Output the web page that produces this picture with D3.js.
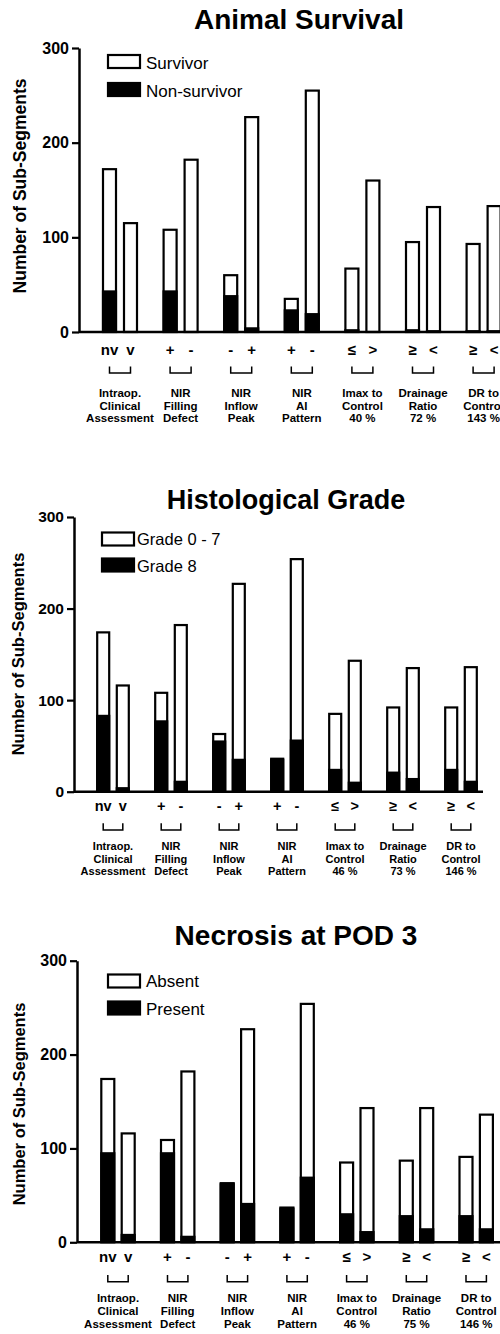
<!DOCTYPE html>
<html>
<head>
<meta charset="utf-8">
<script src="https://cdn.jsdelivr.net/npm/d3@7"></script>
<style>
  html, body { margin: 0; padding: 0; background: #fff; }
  svg { display: block; font-family: "Liberation Sans", Arial, Helvetica, sans-serif; }
</style>
</head>
<body>
<svg id="chart" width="500" height="1334"></svg>
<script>
// ---------------- DATA ----------------
const subLabels = [["nv", "v"], ["+", "-"], ["-", "+"], ["+", "-"], ["\u2264", ">"], ["\u2265", "<"], ["\u2265", "<"]];
const yTicks = [0, 100, 200, 300];

const survivalGroups = [["Intraop.", "Clinical", "Assessment"], ["NIR", "Filling", "Defect"], ["NIR", "Inflow", "Peak"], ["NIR", "AI", "Pattern"], ["Imax to", "Control", "40 %"], ["Drainage", "Ratio", "72 %"], ["DR to", "Control", "143 %"]];
const survivor    = [128, 115, 64, 182, 21, 222, 11, 235, 64, 159, 92, 130, 91, 131];
const nonSurvivor = [44, 0, 44, 0, 39, 5, 24, 20, 3, 1, 3, 2, 2, 2];

const histoGroups = [["Intraop.", "Clinical", "Assessment"], ["NIR", "Filling", "Defect"], ["NIR", "Inflow", "Peak"], ["NIR", "AI", "Pattern"], ["Imax to", "Control", "46 %"], ["Drainage", "Ratio", "73 %"], ["DR to", "Control", "146 %"]];
const grade0to7 = [90, 111, 30, 170, 7, 191, 0, 197, 60, 132, 70, 120, 67, 124];
const grade8    = [84, 5, 78, 12, 56, 36, 36, 57, 25, 11, 22, 15, 25, 12];

const necrosisGroups = [["Intraop.", "Clinical", "Assessment"], ["NIR", "Filling", "Defect"], ["NIR", "Inflow", "Peak"], ["NIR", "AI", "Pattern"], ["Imax to", "Control", "46 %"], ["Drainage", "Ratio", "75 %"], ["DR to", "Control", "146 %"]];
const absent  = [78, 107, 13, 175, 0, 185, 0, 184, 54, 131, 58, 128, 62, 121];
const present = [96, 9, 96, 7, 63, 42, 37, 70, 31, 12, 29, 15, 29, 15];

// ---------------- LAYOUT ----------------
const panels = [
  { title: "Animal Survival", groups: survivalGroups, white: survivor, black: nonSurvivor,
    legend: ["Survivor", "Non-survivor"],
    axisX: 79, y0: 332, y300: 48, c0: 120, step: 60.6, off: 10.5, bw: 13, xEnd: 500,
    titleX: 299, titleY: 29, titleSize: 28,
    symY: 355, brTop: 366.5, brBot: 373, lblY: [397, 409.5, 422],
    yLabX: 26, yLabY: 186, yLabSize: 17.5, tickSize: 16,
    legX: 108, legY: [55, 83], legTextX: 146, legTextY: [68.5, 96.5], legSize: 17, grpSize: 11.5, symSize: 15 },
  { title: "Histological Grade", groups: histoGroups, white: grade0to7, black: grade8,
    legend: ["Grade 0 - 7", "Grade 8"],
    axisX: 74, y0: 791.7, y300: 517, c0: 113, step: 58, off: 9.8, bw: 12, xEnd: 483,
    titleX: 286, titleY: 509, titleSize: 27,
    symY: 810.5, brTop: 823.3, brBot: 830, lblY: [850, 862.5, 875],
    yLabX: 24, yLabY: 654, yLabSize: 16.5, tickSize: 15.5,
    legX: 102, legY: [532.5, 558.5], legTextX: 137, legTextY: [545, 571.5], legSize: 16.5, grpSize: 11, symSize: 14.5 },
  { title: "Necrosis at POD 3", groups: necrosisGroups, white: absent, black: present,
    legend: ["Absent", "Present"],
    axisX: 77, y0: 1242.3, y300: 960.7, c0: 118, step: 59.7, off: 10.2, bw: 13, xEnd: 500,
    titleX: 296, titleY: 945, titleSize: 28,
    symY: 1261.5, brTop: 1275, brBot: 1281.7, lblY: [1301.5, 1315, 1328.3],
    yLabX: 25, yLabY: 1104, yLabSize: 16.5, tickSize: 16,
    legX: 108, legY: [974.5, 1001.5], legTextX: 146, legTextY: [987, 1015], legSize: 17, grpSize: 11.5, symSize: 15 }
];

const svg = d3.select("#chart");

panels.forEach(p => {
  const g = svg.append("g");
  const nG = p.groups.length;
  const y = d3.scaleLinear().domain([0, 300]).range([p.y0, p.y300]);
  const x = d3.scaleBand().domain(d3.range(nG))
    .range([p.c0 - p.step / 2, p.c0 - p.step / 2 + nG * p.step]).padding(0);
  const sub = d3.scalePoint().domain([0, 1]).range([-p.off, p.off]);
  const gc = i => x(i) + x.bandwidth() / 2;

  // title
  g.append("text").attr("x", p.titleX).attr("y", p.titleY)
    .attr("text-anchor", "middle").attr("font-weight", "bold")
    .attr("font-size", p.titleSize).text(p.title);

  // y label
  g.append("text").attr("transform", `translate(${p.yLabX},${p.yLabY}) rotate(-90)`)
    .attr("text-anchor", "middle").attr("font-weight", "bold")
    .attr("font-size", p.yLabSize).text("Number of Sub-Segments");

  // bars
  const bars = [];
  for (let i = 0; i < nG; i++) {
    for (let j = 0; j < 2; j++) {
      const k = i * 2 + j;
      bars.push({ gi: i, si: j, white: p.white[k], black: p.black[k] });
    }
  }
  const bg = g.append("g");
  bg.selectAll("rect.tot").data(bars).join("rect").attr("class", "tot")
    .attr("x", d => gc(d.gi) + sub(d.si) - p.bw / 2)
    .attr("width", p.bw)
    .attr("y", d => y(d.white + d.black))
    .attr("height", d => y(0) - y(d.white + d.black))
    .attr("fill", "#fff").attr("stroke", "#000").attr("stroke-width", 2.2);
  bg.selectAll("rect.blk").data(bars.filter(d => d.black > 0)).join("rect").attr("class", "blk")
    .attr("x", d => gc(d.gi) + sub(d.si) - p.bw / 2 - 1.1)
    .attr("width", p.bw + 2.2)
    .attr("y", d => y(d.black))
    .attr("height", d => y(0) - y(d.black))
    .attr("fill", "#000");

  // x axis line
  g.append("line").attr("x1", p.axisX).attr("x2", p.xEnd)
    .attr("y1", y(0)).attr("y2", y(0))
    .attr("stroke", "#000").attr("stroke-width", 2.5);

  // y axis
  const ax = g.append("g").attr("transform", `translate(${p.axisX},0)`)
    .call(d3.axisLeft(y).tickValues(yTicks).tickSize(7).tickSizeOuter(0).tickPadding(3));
  ax.select(".domain").attr("stroke-width", 2.5);
  ax.selectAll(".tick line").attr("stroke-width", 2.2);
  ax.selectAll(".tick text").attr("font-size", p.tickSize).attr("font-weight", "bold")
    .attr("font-family", "Liberation Sans, Arial, sans-serif").attr("fill", "#000");

  // sub labels
  const sl = [];
  for (let i = 0; i < nG; i++) for (let j = 0; j < 2; j++) sl.push({ gi: i, si: j, t: subLabels[i][j] });
  g.selectAll("text.sym").data(sl).join("text").attr("class", "sym")
    .attr("x", d => gc(d.gi) + sub(d.si)).attr("y", p.symY)
    .attr("text-anchor", "middle").attr("font-weight", "bold")
    .attr("font-size", p.symSize).text(d => d.t);

  // brackets
  g.selectAll("path.br").data(d3.range(nG)).join("path").attr("class", "br")
    .attr("d", i => {
      const a = gc(i) + sub(0), b = gc(i) + sub(1);
      return `M${a},${p.brTop}V${p.brBot}H${b}V${p.brTop}`;
    })
    .attr("fill", "none").attr("stroke", "#000").attr("stroke-width", 1.5);

  // group labels
  p.groups.forEach((lines, i) => {
    lines.forEach((t, li) => {
      g.append("text").attr("x", gc(i)).attr("y", p.lblY[li])
        .attr("text-anchor", "middle").attr("font-weight", "bold")
        .attr("font-size", p.grpSize).text(t);
    });
  });

  // legend
  [0, 1].forEach(k => {
    g.append("rect").attr("x", p.legX).attr("y", p.legY[k]).attr("width", 32).attr("height", 13)
      .attr("fill", k === 0 ? "#fff" : "#000").attr("stroke", "#000").attr("stroke-width", 2.2);
    g.append("text").attr("x", p.legTextX).attr("y", p.legTextY[k])
      .attr("font-size", p.legSize).text(p.legend[k]);
  });
});
</script>
</body>
</html>
